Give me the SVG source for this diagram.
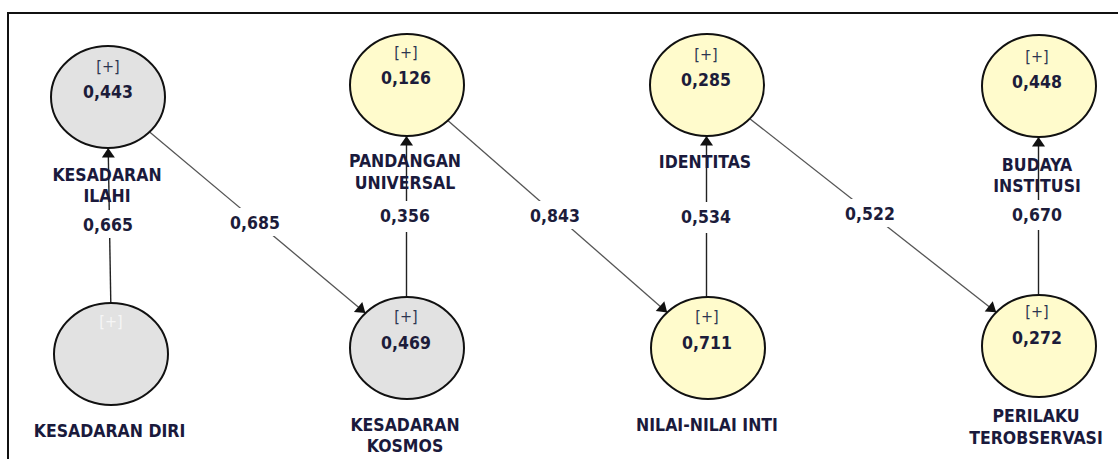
<svg xmlns="http://www.w3.org/2000/svg" width="1118" height="459" viewBox="0 0 1118 459">
<defs>
<style>
.frame{fill:none;stroke:#111;stroke-width:2}
.grey{fill:#e2e2e2;stroke:#111;stroke-width:2}
.yel{fill:#fffbcc;stroke:#111;stroke-width:2}
.plus{font-family:"DejaVu Sans Condensed","DejaVu Sans",sans-serif;font-size:16px;fill:#2c3550;text-anchor:middle}
.plusw{font-family:"DejaVu Sans Condensed","DejaVu Sans",sans-serif;font-size:16px;fill:#f6f6f6;text-anchor:middle}
.val{font-family:"DejaVu Sans Condensed","DejaVu Sans",sans-serif;font-size:17.5px;font-weight:bold;fill:#1c1c3a;text-anchor:middle}
.lbl{font-family:"DejaVu Sans Condensed","DejaVu Sans",sans-serif;font-size:17.5px;font-weight:bold;fill:#1a1a3c;text-anchor:middle}
.vl{stroke:#222;stroke-width:1.4;fill:none}
.dl{stroke:#555;stroke-width:1.3;fill:none}
.bg{fill:#fff}
</style>
<marker id="ah" markerUnits="userSpaceOnUse" markerWidth="16" markerHeight="16" viewBox="-11 -8 12 16" refX="0" refY="0" orient="auto">
<path d="M0,0 L-9.5,-6.5 L-9.5,6.5 Z" fill="#111"/>
</marker>
</defs>
<rect width="1118" height="459" fill="#fff"/>
<path class="frame" d="M8,459 V13 H1118"/>

<g id="connectors">
<line class="vl" x1="110.8" y1="303" x2="108.2" y2="148" marker-end="url(#ah)"/>
<line class="dl" x1="149.6" y1="131.9" x2="365.4" y2="313.1" marker-end="url(#ah)"/>
<line class="vl" x1="406.5" y1="297" x2="406.5" y2="136" marker-end="url(#ah)"/>
<line class="dl" x1="447.8" y1="120.6" x2="667.2" y2="312.4" marker-end="url(#ah)"/>
<line class="vl" x1="706.5" y1="297" x2="706.5" y2="136" marker-end="url(#ah)"/>
<line class="dl" x1="749.8" y1="118.7" x2="996.2" y2="312.3" marker-end="url(#ah)"/>
<line class="vl" x1="1038.5" y1="295" x2="1038.5" y2="137" marker-end="url(#ah)"/>
<g id="edge-labels">
<rect class="bg" x="80" y="210" width="56" height="28"/>
<text class="val" x="108" y="231">0,665</text>
<rect class="bg" x="227" y="208" width="56" height="28"/>
<text class="val" x="255" y="229">0,685</text>
<rect class="bg" x="377" y="201" width="56" height="31"/>
<text class="val" x="405" y="222">0,356</text>
<rect class="bg" x="527" y="201" width="56" height="28"/>
<text class="val" x="555" y="221.5">0,843</text>
<rect class="bg" x="678" y="202" width="56" height="31"/>
<text class="val" x="706" y="222.5">0,534</text>
<rect class="bg" x="842" y="199" width="56" height="28"/>
<text class="val" x="870" y="220">0,522</text>
<rect class="bg" x="1009" y="200" width="56" height="30"/>
<text class="val" x="1037" y="221">0,670</text>
</g>
</g>

<g id="kesadaran-ilahi">
<ellipse class="grey" cx="108" cy="97" rx="57" ry="51"/>
<text class="plus" x="108" y="72">[+]</text>
<text class="val" x="108" y="98">0,443</text>
<text class="lbl" x="107" y="181">KESADARAN</text>
<text class="lbl" x="107" y="202">ILAHI</text>
</g>

<g id="kesadaran-diri">
<ellipse class="grey" cx="111" cy="354" rx="57" ry="51"/>
<text class="plusw" x="111" y="327">[+]</text>
<text class="lbl" x="109.5" y="437">KESADARAN DIRI</text>
</g>

<g id="pandangan-universal">
<ellipse class="yel" cx="407" cy="85" rx="57" ry="51"/>
<text class="plus" x="406" y="58">[+]</text>
<text class="val" x="406" y="84">0,126</text>
<text class="lbl" x="405" y="167">PANDANGAN</text>
<text class="lbl" x="405" y="189">UNIVERSAL</text>
</g>

<g id="kesadaran-kosmos">
<ellipse class="grey" cx="407" cy="348" rx="57" ry="51"/>
<text class="plus" x="406" y="322">[+]</text>
<text class="val" x="406" y="348.5">0,469</text>
<text class="lbl" x="405" y="431">KESADARAN</text>
<text class="lbl" x="405" y="452">KOSMOS</text>
</g>

<g id="identitas">
<ellipse class="yel" cx="707" cy="85" rx="57" ry="51"/>
<text class="plus" x="706" y="60">[+]</text>
<text class="val" x="706" y="86">0,285</text>
<text class="lbl" x="705" y="168">IDENTITAS</text>
</g>

<g id="nilai-nilai-inti">
<ellipse class="yel" cx="708" cy="348" rx="57" ry="51"/>
<text class="plus" x="707" y="322">[+]</text>
<text class="val" x="707" y="348.5">0,711</text>
<text class="lbl" x="707" y="431">NILAI-NILAI INTI</text>
</g>

<g id="budaya-institusi">
<ellipse class="yel" cx="1039" cy="86" rx="57" ry="51"/>
<text class="plus" x="1037" y="61.5">[+]</text>
<text class="val" x="1037" y="87.5">0,448</text>
<text class="lbl" x="1037" y="171">BUDAYA</text>
<text class="lbl" x="1037" y="192">INSTITUSI</text>
</g>

<g id="perilaku-terobservasi">
<ellipse class="yel" cx="1039" cy="346" rx="57" ry="51"/>
<text class="plus" x="1037" y="317">[+]</text>
<text class="val" x="1037" y="344">0,272</text>
<text class="lbl" x="1036" y="422">PERILAKU</text>
<text class="lbl" x="1036" y="444">TEROBSERVASI</text>
</g>
</svg>
